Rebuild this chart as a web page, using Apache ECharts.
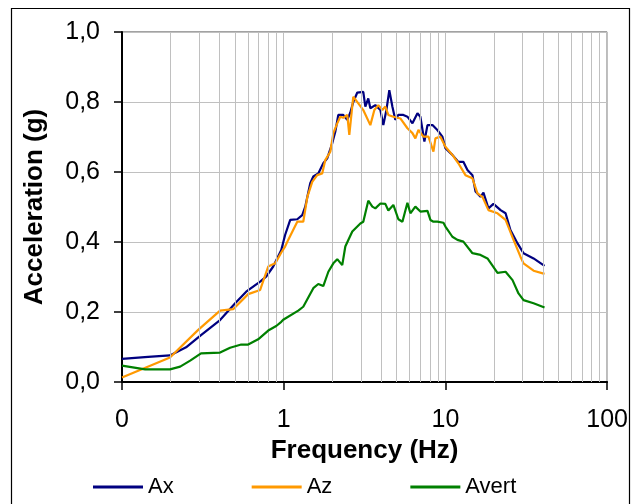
<!DOCTYPE html>
<html>
<head>
<meta charset="utf-8">
<script src="https://cdn.jsdelivr.net/npm/echarts@6/dist/echarts.min.js"></script>
<style>
html,body{margin:0;padding:0;background:#fff;}
#chart{width:631px;height:504px;}
</style>
</head>
<body>
<div id="chart"></div>
<script>
// ---- data (frequency in Hz, acceleration in g) ----
const freqAx = [0.1,0.145,0.198,0.249,0.308,0.404,0.501,0.586,0.715,0.779,0.861,0.966,1.02,1.097,1.213,1.302,1.359,1.459,1.524,1.636,1.757,1.858,1.995,2.084,2.175,2.335,2.472,2.582,2.692,2.851,3.105,3.197,3.334,3.433,3.687,3.961,4.13,4.315,4.498,4.697,4.898,5.117,5.495,5.821,6.252,6.714,6.998,7.413,7.745,8.318,8.913,9.572,10.0,11.04,12.02,12.91,13.68,14.69,15.35,16.48,17.18,18.45,19.82,21.93,23.55,25.23,27.93,30.41,35.07,41.0];
const ax = [0.066,0.072,0.076,0.099,0.134,0.177,0.225,0.258,0.287,0.301,0.33,0.377,0.42,0.463,0.465,0.477,0.501,0.568,0.587,0.596,0.625,0.639,0.682,0.715,0.763,0.763,0.749,0.77,0.80,0.827,0.829,0.787,0.81,0.782,0.791,0.777,0.734,0.777,0.834,0.787,0.749,0.763,0.763,0.758,0.739,0.768,0.758,0.687,0.734,0.734,0.72,0.701,0.668,0.649,0.629,0.629,0.606,0.591,0.544,0.529,0.541,0.496,0.509,0.491,0.482,0.434,0.396,0.368,0.353,0.332];

const freqAz = [0.1,0.198,0.296,0.404,0.487,0.603,0.715,0.802,0.886,0.966,1.02,1.066,1.213,1.321,1.4,1.501,1.611,1.73,1.807,1.941,2.027,2.143,2.238,2.335,2.472,2.545,2.692,2.893,3.105,3.433,3.635,3.846,4.074,4.249,4.436,4.764,5.264,5.821,6.252,6.516,6.808,7.31,7.852,8.43,8.67,9.31,10.0,11.04,12.02,13.3,14.69,15.78,16.94,18.45,20.99,23.55,26.37,29.1,30.41,35.07,41.0];
const az = [0.013,0.07,0.149,0.204,0.208,0.251,0.263,0.33,0.339,0.37,0.387,0.406,0.458,0.458,0.529,0.572,0.591,0.596,0.634,0.658,0.711,0.739,0.758,0.755,0.763,0.706,0.815,0.796,0.777,0.734,0.777,0.791,0.777,0.787,0.763,0.758,0.753,0.725,0.711,0.696,0.72,0.701,0.701,0.658,0.696,0.701,0.672,0.649,0.625,0.591,0.582,0.539,0.529,0.491,0.482,0.463,0.406,0.358,0.339,0.318,0.309];

const freqAvert = [0.1,0.139,0.198,0.229,0.264,0.308,0.404,0.466,0.546,0.603,0.695,0.802,0.899,0.966,0.993,1.23,1.321,1.524,1.636,1.757,1.888,2.027,2.143,2.301,2.404,2.655,2.978,3.105,3.334,3.532,3.687,3.961,4.249,4.436,4.764,5.117,5.42,5.821,6.07,6.516,7.0,7.745,8.075,8.43,8.913,9.72,10.0,11.04,11.86,12.91,14.69,16.48,18.2,20.99,23.55,26.0,28.3,30.41,35.07,41.0];
const avert = [0.047,0.036,0.036,0.044,0.061,0.082,0.084,0.098,0.107,0.107,0.122,0.147,0.16,0.172,0.178,0.204,0.215,0.268,0.28,0.274,0.315,0.339,0.351,0.334,0.387,0.43,0.453,0.458,0.518,0.501,0.496,0.51,0.509,0.49,0.506,0.465,0.458,0.512,0.482,0.501,0.487,0.489,0.463,0.458,0.458,0.455,0.444,0.415,0.406,0.401,0.368,0.363,0.353,0.312,0.315,0.291,0.253,0.234,0.225,0.213];

const seriesNames = ['Ax','Az','Avert'];
const xTickValues = [0.1, 1, 10, 100];
const xTickLabels = ['0','1','10','100'];
const yTickLabels = ['0,0','0,2','0,4','0,6','0,8','1,0'];

// ---- build ----
const zip = (xs, ys) => xs.map((x, i) => [x, ys[i]]);
const minorGrid = [];
for (let d = 0.1; d < 100; d *= 10) {
  for (let k = 2; k <= 9; k++) minorGrid.push({ xAxis: +(d * k).toPrecision(3) });
}
const FONT = 'Arial, "Liberation Sans", sans-serif';

const chart = echarts.init(document.getElementById('chart'), null, { renderer: 'canvas' });
chart.setOption({
  animation: false,
  backgroundColor: '#ffffff',
  graphic: [{
    type: 'rect', silent: true, z: 100,
    shape: { x: 11.5, y: 8.5, width: 618, height: 510 },
    style: { fill: 'none', stroke: '#000', lineWidth: 1.2 }
  }],
  grid: { left: 122, right: 23, top: 32, bottom: 122, show: true, borderColor: '#444', borderWidth: 1, backgroundColor: 'transparent' },
  legend: {
    data: seriesNames,
    left: 93, top: 476,
    icon: 'rect', itemWidth: 50, itemHeight: 3, itemGap: 78,
    padding: 0,
    textStyle: { fontFamily: FONT, fontSize: 22, color: '#000' }
  },
  xAxis: {
    type: 'log', logBase: 10, min: 0.1, max: 100,
    name: 'Frequency (Hz)', nameLocation: 'middle', nameGap: 53,
    nameTextStyle: { fontFamily: FONT, fontSize: 26, fontWeight: 'bold', color: '#000' },
    axisLine: { show: true, onZero: false, lineStyle: { color: '#000', width: 2 } },
    axisTick: { show: true, inside: false, length: 8, lineStyle: { color: '#000', width: 1.5 } },
    axisLabel: {
      margin: 26, fontFamily: FONT, fontSize: 25, color: '#000',
      formatter: v => { const i = xTickValues.findIndex(t => Math.abs(t - v) / t < 1e-6); return i >= 0 ? xTickLabels[i] : ''; }
    },
    splitLine: { show: true, lineStyle: { color: '#C0C0C0', width: 1 } }
  },
  yAxis: {
    type: 'value', min: 0, max: 1, interval: 0.2,
    name: 'Acceleration (g)', nameLocation: 'middle', nameGap: 74,
    nameTextStyle: { fontFamily: FONT, fontSize: 26, fontWeight: 'bold', color: '#000' },
    axisLine: { show: true, lineStyle: { color: '#000', width: 2 } },
    axisTick: { show: true, inside: false, length: 8, lineStyle: { color: '#000', width: 1.5 } },
    axisLabel: {
      margin: 22, fontFamily: FONT, fontSize: 25, color: '#000',
      formatter: v => yTickLabels[Math.round(v / 0.2)]
    },
    splitLine: { show: true, lineStyle: { color: '#C0C0C0', width: 1 } }
  },
  series: [
    {
      type: 'line', data: [], silent: true, z: 1,
      markLine: {
        silent: true, symbol: ['none', 'none'], animation: false,
        label: { show: false },
        lineStyle: { color: '#C0C0C0', width: 1, type: 'solid' },
        emphasis: { disabled: true },
        data: minorGrid
      }
    },
    { name: 'Ax', type: 'line', data: zip(freqAx, ax), showSymbol: false, z: 3,
      lineStyle: { color: '#000080', width: 2.2 }, itemStyle: { color: '#000080' } },
    { name: 'Az', type: 'line', data: zip(freqAz, az), showSymbol: false, z: 4,
      lineStyle: { color: '#FF9900', width: 2.2 }, itemStyle: { color: '#FF9900' } },
    { name: 'Avert', type: 'line', data: zip(freqAvert, avert), showSymbol: false, z: 5,
      lineStyle: { color: '#008000', width: 2.2 }, itemStyle: { color: '#008000' } }
  ]
});
</script>
</body>
</html>
